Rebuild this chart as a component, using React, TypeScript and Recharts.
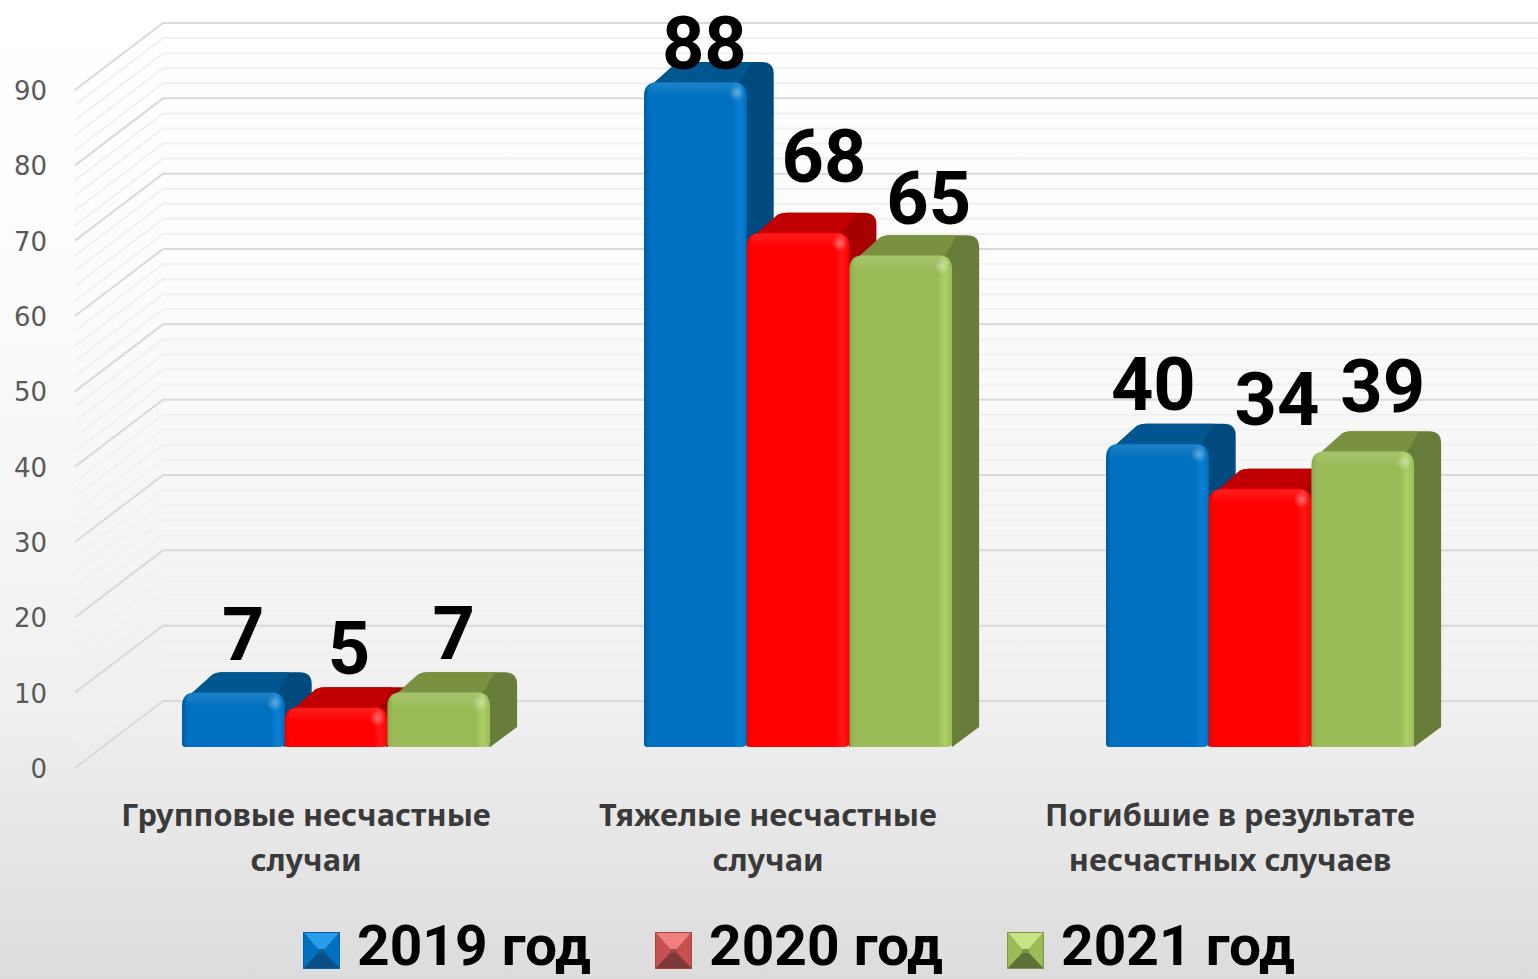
import React from 'react';
import { BarChart, Bar, XAxis, YAxis, CartesianGrid, Legend, LabelList } from 'recharts';

const categories = ['Групповые несчастные\nслучаи', 'Тяжелые несчастные\nслучаи', 'Погибшие в результате\nнесчастных случаев'];
const values2019 = [7, 88, 40];
const values2020 = [5, 68, 34];
const values2021 = [7, 65, 39];
const seriesNames = ['2019 год', '2020 год', '2021 год'];
const yTicks = [0, 10, 20, 30, 40, 50, 60, 70, 80, 90];
const gridValues = [0, 2, 4, 6, 8, 10, 12, 14, 16, 18, 20, 22, 24, 26, 28, 30, 32, 34, 36, 38, 40, 42, 44, 46, 48, 50, 52, 54, 56, 58, 60, 62, 64, 66, 68, 70, 72, 74, 76, 78, 80, 82, 84, 86, 88, 90];

const data = categories.map((name, i) => ({
  name,
  y2019: values2019[i],
  y2020: values2020[i],
  y2021: values2021[i],
}));

const WIDTH = 1538;
const HEIGHT = 979;
const FONT = '"Noto Sans", sans-serif';

// one colour set per series: front, edge highlight, top face, side face
const palettes = [
  { front: '#0070c0', light: '#0a80d4', top: '#00568f', side: '#004a7e', left: '#005a9c' },
  { front: '#ff0000', light: '#ff1a1a', top: '#c00000', side: '#a80000', left: '#e80000' },
  { front: '#9bbb59', light: '#aecf66', top: '#7a9142', side: '#677d39', left: '#8aa84e' },
];

// data labels were moved by hand in the original: [dx from bar centre, baseline above bar top]
const labelNudges = [
  [[10, 34], [9, 15], [-4, 36]],
  [[13, 35], [26, 53], [17, 66]],
  [[15, 35], [28, 33], [20, 41]],
];

const GradientDefs = () => (
  <defs>
    {palettes.map((p, i) => (
      <linearGradient key={i} id={`front-${i}`} x1="0" y1="0" x2="1" y2="0">
        <stop offset="0" stopColor={p.left} />
        <stop offset="0.05" stopColor={p.front} />
        <stop offset="0.86" stopColor={p.front} />
        <stop offset="0.93" stopColor={p.light} />
        <stop offset="1" stopColor={p.front} />
      </linearGradient>
    ))}
    <linearGradient id="top-band" x1="0" y1="0" x2="0" y2="1">
      <stop offset="0" stopColor="#ffffff" stopOpacity="0.12" />
      <stop offset="1" stopColor="#ffffff" stopOpacity="0" />
    </linearGradient>
    <radialGradient id="corner-glow">
      <stop offset="0" stopColor="#ffffff" stopOpacity="0.35" />
      <stop offset="1" stopColor="#ffffff" stopOpacity="0" />
    </radialGradient>
  </defs>
);

const Bar3D = ({ x, y: rawY, width, height, series }: any) => {
  const p = palettes[series];
  const dx = 27;
  const dy = 20;
  const r = 14;
  // the bevel makes the rendered top sit a little above the value
  const y = rawY - 2;
  const base = rawY + height;
  const right = x + width;
  return (
    <g>
      <path
        d={`M${x + 2} ${y + 8} L${x + dx + 4} ${y - dy + 2} Q${x + dx + 8} ${y - dy} ${x + dx + 13} ${y - dy}
            L${right + dx - 12} ${y - dy} Q${right + dx} ${y - dy} ${right + dx} ${y - dy + 12}
            L${right + dx} ${base - dy} L${right} ${base} Z`}
        fill={p.side}
      />
      <path
        d={`M${x + 2} ${y + 8} L${x + dx + 4} ${y - dy + 2} Q${x + dx + 8} ${y - dy} ${x + dx + 13} ${y - dy}
            L${right + dx - 22} ${y - dy} L${right - 8} ${y + 2} Z`}
        fill={p.top}
      />
      <path
        d={`M${x} ${base - 2} L${x} ${y + r} Q${x} ${y} ${x + r} ${y} L${right - r} ${y} Q${right} ${y} ${right} ${y + r}
            L${right} ${base - 4} Q${right} ${base} ${right - 6} ${base} L${x + 2} ${base} Z`}
        fill={`url(#front-${series})`}
      />
      <rect x={x + 4} y={y + 1} width={width - 8} height={14} rx={7} fill="url(#top-band)" />
      <circle cx={right - 10} cy={y + 11} r={8} fill="url(#corner-glow)" />
    </g>
  );
};

const GridLine = ({ y1, index }: any) => {
  const major = index % 5 === 0;
  // the wall sits behind the bars and the floor in front of them, as in a 3D chart
  return (
    <path
      key={index}
      d={`M75 ${y1 + 21} L163 ${y1 - 46} L${WIDTH} ${y1 - 46}`}
      fill="none"
      stroke={major ? '#d9d9d9' : '#f0f0f0'}
      strokeWidth={2}
    />
  );
};

const YTick = ({ x, y, payload }: any) => (
  <text x={x - 50} y={y + 31} textAnchor="end" fontFamily='"DejaVu Sans", sans-serif' fontSize={26} fill="#595959">
    {payload.value}
  </text>
);

const XTick = ({ x, y, payload }: any) => (
  <text textAnchor="middle" fontFamily={FONT} fontWeight={700} fontSize={30.7} fill="#3a3a3a">
    {String(payload.value).split('\n').map((line: string, i: number) => (
      <tspan key={i} x={x - 30} y={y + 71 + i * 45}>
        {line}
      </tspan>
    ))}
  </text>
);

const ValueLabel = ({ x, y, width, value, index, series }: any) => {
  const [dx, up] = labelNudges[series][index];
  return (
    <text
      x={x + width / 2 + dx}
      y={y - up}
      textAnchor="middle"
      fontFamily="Roboto, sans-serif"
      fontWeight={700}
      fontSize={74}
      fill="#000000"
    >
      {value}
    </text>
  );
};

const LegendMark = ({ series }: { series: number }) => {
  const colors = [
    ['#2a9cec', '#0a5f9e', '#0070c0', '#0a4f85'],
    ['#f08080', '#a84444', '#c85050', '#7c3a3a'],
    ['#c8e288', '#7d9648', '#9bbb59', '#5f7038'],
  ][series];
  return (
    <svg width={37} height={37} style={{ display: 'block', flex: 'none' }}>
      <rect width={37} height={37} fill={colors[1]} />
      <path d="M1 1 L36 1 L22 17 L15 17 Z" fill={colors[0]} />
      <path d="M1 1 L15 17 L15 21 L1 36 Z" fill={colors[2]} />
      <path d="M36 1 L22 17 L22 21 L36 36 Z" fill={colors[2]} />
      <path d="M1 36 L15 21 L22 21 L36 36 Z" fill={colors[3]} />
    </svg>
  );
};

const LegendContent = () => (
  <div style={{ position: 'relative', width: WIDTH, height: 79 }}>
    {seriesNames.map((name, i) => (
      <div key={name} style={{ position: 'absolute', left: 303 + i * 352, top: 0, width: 300, height: 79 }}>
        <div style={{ position: 'absolute', left: 0, top: 32 }}>
          <LegendMark series={i} />
        </div>
        <svg width={260} height={79} style={{ position: 'absolute', left: 54, top: 0 }}>
          <text x={0} y={65} textLength={234} lengthAdjust="spacingAndGlyphs" fontFamily="Roboto, sans-serif" fontWeight={700} fontSize={56} fill="#000000">
            {name}
          </text>
        </svg>
      </div>
    ))}
  </div>
);

export default function App() {
  return (
    <div
      style={{
        position: 'absolute',
        left: 0,
        top: 0,
        width: WIDTH,
        height: HEIGHT,
        overflow: 'hidden',
        background: 'linear-gradient(180deg, #ffffff 0%, #fcfcfc 30%, #f0f0f0 72%, #dcdcdc 100%)',
      }}
    >
      <BarChart
        width={WIDTH}
        height={HEIGHT}
        data={data}
        barSize={102.7}
        barGap={0}
        margin={{ top: 69, right: 47, bottom: 0, left: 0 }}
      >
        <GradientDefs />
        <CartesianGrid vertical={false} horizontalValues={gridValues} horizontal={(props: any) => <GridLine {...props} />} />
        <XAxis dataKey="name" axisLine={false} tickLine={false} height={153} interval={0} tick={<XTick />} />
        <YAxis width={105} domain={[0, 90]} ticks={yTicks} interval={0} axisLine={false} tickLine={false} tick={<YTick />} />
        <Legend verticalAlign="bottom" height={79} wrapperStyle={{ left: 0, bottom: 0, width: WIDTH }} content={<LegendContent />} />
        {['y2019', 'y2020', 'y2021'].map((key, i) => (
          <Bar
            key={key}
            dataKey={key}
            name={seriesNames[i]}
            fill={palettes[i].front}
            isAnimationActive={false}
            shape={(props: any) => <Bar3D {...props} series={i} />}
          >
            <LabelList dataKey={key} content={(props: any) => <ValueLabel {...props} series={i} />} />
          </Bar>
        ))}
      </BarChart>
    </div>
  );
}
